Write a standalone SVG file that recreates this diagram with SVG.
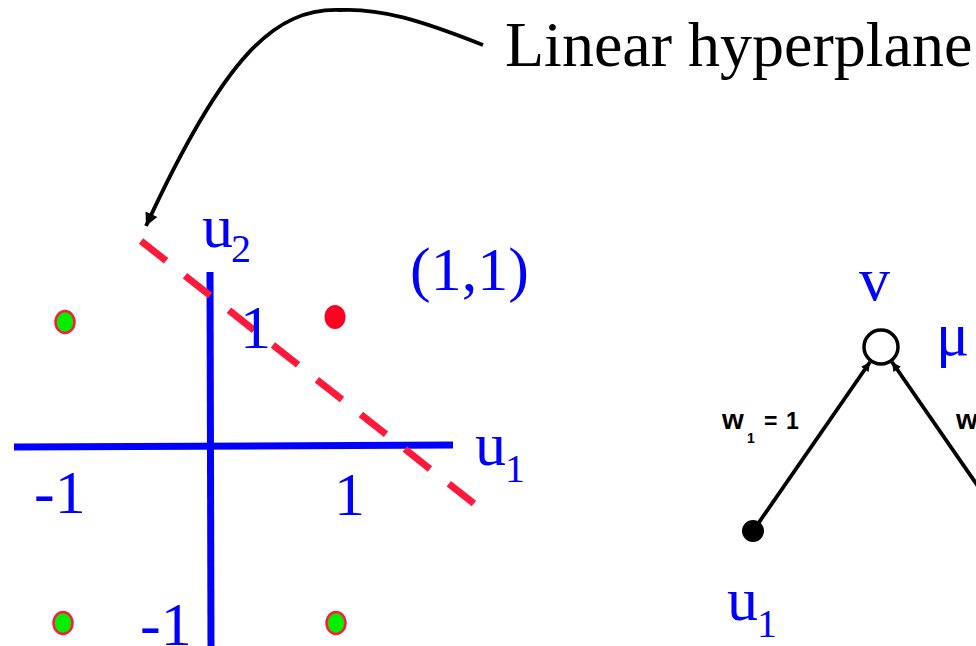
<svg xmlns="http://www.w3.org/2000/svg" width="976" height="646" viewBox="0 0 976 646">
<defs>
<style>
.lbl{font-family:"Liberation Serif","Times New Roman",serif;fill:#0000ff;font-size:62px}
.sub{font-family:"Liberation Serif","Times New Roman",serif;fill:#0000ff;font-size:40px}
.axis{stroke:#0000ff;stroke-width:7;fill:none}
.gdot{fill:#00ee00;stroke:#ff1a3c;stroke-width:2.5}
.wl{font-family:"Liberation Sans",Arial,sans-serif;font-weight:bold;fill:#000;font-size:23px}
.ww{font-family:"Liberation Sans",Arial,sans-serif;font-weight:bold;fill:#000;font-size:28px}
.ws{font-family:"Liberation Sans",Arial,sans-serif;font-weight:bold;fill:#000;font-size:14px}
.edge{stroke:#000;stroke-width:3.8;fill:none}
</style>
<marker id="bigArrow" viewBox="0 0 10 10" refX="10" refY="5" markerUnits="userSpaceOnUse" markerWidth="17" markerHeight="13" orient="auto">
<path d="M0,0 L10,5 L0,10 z" fill="#000"/>
</marker>
<marker id="smallArrow" viewBox="0 0 10 10" refX="10" refY="5" markerUnits="userSpaceOnUse" markerWidth="14" markerHeight="9" orient="auto">
<path d="M0,0 L10,5 L0,10 z" fill="#000"/>
</marker>
</defs>
<rect width="976" height="646" fill="#fff"/>

<g id="hyperplane-label">
<text x="505" y="66" font-family="Liberation Serif, Times New Roman, serif" font-size="64" fill="#000">Linear hyperplane</text>
</g>

<g id="axes">
<line class="axis" x1="14" y1="447" x2="453" y2="445"/>
<line class="axis" x1="210" y1="272" x2="211" y2="646"/>
</g>

<g id="hyperplane">
<line x1="141" y1="241" x2="477" y2="506" stroke="#ff1a3c" stroke-width="7" stroke-dasharray="32 24"/>
</g>

<g id="points">
<ellipse id="p-m1-p1" class="gdot" cx="65" cy="322" rx="9.5" ry="11"/>
<ellipse id="p-p1-p1" cx="335" cy="317" rx="10.5" ry="12" fill="#ff0022"/>
<ellipse id="p-m1-m1" class="gdot" cx="63" cy="623" rx="9.5" ry="11"/>
<ellipse id="p-p1-m1" class="gdot" cx="336" cy="623" rx="9.5" ry="11"/>
</g>

<g id="axis-labels">
<text class="lbl" x="202" y="247">u</text><text class="sub" x="231" y="262">2</text>
<text class="lbl" x="410" y="290">(1,1)</text>
<text class="lbl" x="240" y="348">1</text>
<text class="lbl" x="475" y="465">u</text><text class="sub" x="505" y="482">1</text>
<text class="lbl" x="34" y="513">-1</text>
<text class="lbl" x="334" y="515">1</text>
<text class="lbl" x="140" y="645">-1</text>
</g>

<g id="node-v">
<circle cx="881" cy="347" r="17" fill="#fff" stroke="#000" stroke-width="3.5"/>
<text class="lbl" x="859" y="300">v</text>
<text class="lbl" x="936" y="355">μ</text>
</g>

<g id="node-u1">
<circle cx="753" cy="531" r="11" fill="#000"/>
<text class="lbl" x="727" y="620">u</text><text class="sub" x="757" y="637">1</text>
</g>

<g id="connectors">
<path class="edge" d="M483,45 C420,20 380,8 340,10 C275,8 225,55 146,226" stroke-width="2.5" marker-end="url(#bigArrow)"/>
<line class="edge" x1="753" y1="531" x2="870" y2="362" marker-end="url(#smallArrow)"/>
<line class="edge" x1="1009" y1="531" x2="892" y2="362" marker-end="url(#smallArrow)"/>
</g>

<g id="edge-labels">
<text class="ww" x="722" y="429">w</text><text class="ws" x="747" y="443">1</text><text class="wl" x="764" y="429">=</text><text class="wl" x="786" y="429">1</text>
<text class="ww" x="956" y="429">w</text><text class="ws" x="981" y="443">2</text>
</g>
</svg>
